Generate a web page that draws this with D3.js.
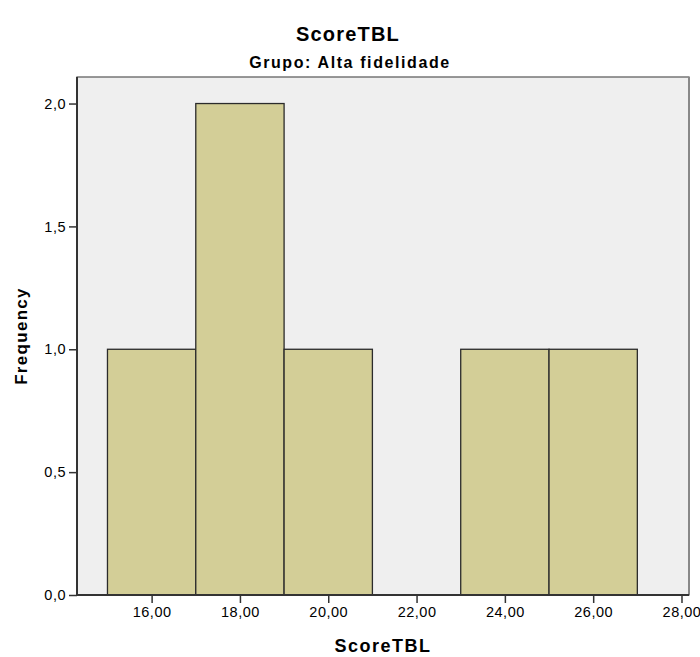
<!DOCTYPE html>
<html>
<head>
<meta charset="utf-8">
<script src="https://cdn.jsdelivr.net/npm/d3@7"></script>
<style>
  body { margin: 0; background: #fff; }
  text { font-family: "Liberation Sans", Arial, sans-serif; fill: #000; }
</style>
</head>
<body>
<svg id="chart" width="700" height="657"></svg>
<script>
// histogram data
var binEdges = [15, 17, 19, 21, 23, 25, 27];
var frequencies = [1, 2, 1, 0, 1, 1];
var xTicks = [16, 18, 20, 22, 24, 26, 28];
var yTicks = [0, 0.5, 1, 1.5, 2];

var chartTitle = "ScoreTBL";
var subTitle = "Grupo: Alta fidelidade";
var xTitle = "ScoreTBL";
var yTitle = "Frequency";

var width = 700;
var height = 657;
var plot = { left: 77, top: 77, right: 689, bottom: 595 };

var svg = d3.select("#chart");

var x = d3.scaleLinear().domain([14.31, 28.17]).range([plot.left, plot.right]);
var y = d3.scaleLinear().domain([0, 2.108]).range([plot.bottom, plot.top]);

var comma = f => (v => d3.format(f)(v).replace(".", ","));

// plot background
svg.append("rect")
  .attr("x", plot.left)
  .attr("y", plot.top)
  .attr("width", plot.right - plot.left)
  .attr("height", plot.bottom - plot.top)
  .attr("fill", "#efefef")
  .attr("stroke", "#555")
  .attr("stroke-width", 1.2);

svg.append("line")
  .attr("x1", plot.right).attr("x2", plot.right)
  .attr("y1", plot.top).attr("y2", plot.bottom)
  .attr("stroke", "#888").attr("stroke-width", 2);

// bars
var bins = frequencies.map((f, i) => ({ x0: binEdges[i], x1: binEdges[i + 1], n: f }))
  .filter(d => d.n > 0);

svg.append("g").selectAll("rect")
  .data(bins)
  .enter()
  .append("rect")
  .attr("x", d => x(d.x0))
  .attr("y", d => y(d.n))
  .attr("width", d => x(d.x1) - x(d.x0))
  .attr("height", d => y(0) - y(d.n))
  .attr("fill", "#d3ce97")
  .attr("stroke", "#2b2b2b")
  .attr("stroke-width", 1.3);

// axes
var yAxis = svg.append("g")
  .attr("transform", `translate(${plot.left},0)`)
  .call(d3.axisLeft(y).tickValues(yTicks).tickSize(8).tickPadding(3).tickFormat(comma(".1f")));

var xAxis = svg.append("g")
  .attr("transform", `translate(0,${plot.bottom})`)
  .call(d3.axisBottom(x).tickValues(xTicks).tickSize(8).tickPadding(4).tickFormat(comma(".2f")));

[yAxis, xAxis].forEach(g => {
  g.select(".domain").remove();
  g.selectAll(".tick line").attr("stroke", "#333").attr("stroke-width", 1.5);
  g.selectAll(".tick text")
    .style("font-size", "14.5px")
    .style("letter-spacing", "0.5px")
    .attr("fill", "#222");
});

svg.append("line")
  .attr("x1", plot.left).attr("x2", plot.left)
  .attr("y1", plot.top).attr("y2", plot.bottom)
  .attr("stroke", "#333").attr("stroke-width", 2);
svg.append("line")
  .attr("x1", plot.left).attr("x2", plot.right)
  .attr("y1", plot.bottom).attr("y2", plot.bottom)
  .attr("stroke", "#333").attr("stroke-width", 2);

// titles
svg.append("text")
  .attr("x", 348).attr("y", 41)
  .attr("text-anchor", "middle")
  .style("font-size", "20px").style("font-weight", "bold")
  .style("letter-spacing", "1.2px")
  .text(chartTitle);

svg.append("text")
  .attr("x", 350).attr("y", 68)
  .attr("text-anchor", "middle")
  .style("font-size", "16px").style("font-weight", "bold")
  .style("letter-spacing", "1.6px")
  .text(subTitle);

svg.append("text")
  .attr("x", 383).attr("y", 652)
  .attr("text-anchor", "middle")
  .style("font-size", "18px").style("font-weight", "bold")
  .style("letter-spacing", "1.5px")
  .text(xTitle);

svg.append("text")
  .attr("transform", "translate(27,336) rotate(-90)")
  .attr("text-anchor", "middle")
  .style("font-size", "17px").style("font-weight", "bold")
  .style("letter-spacing", "1.3px")
  .text(yTitle);
</script>
</body>
</html>
